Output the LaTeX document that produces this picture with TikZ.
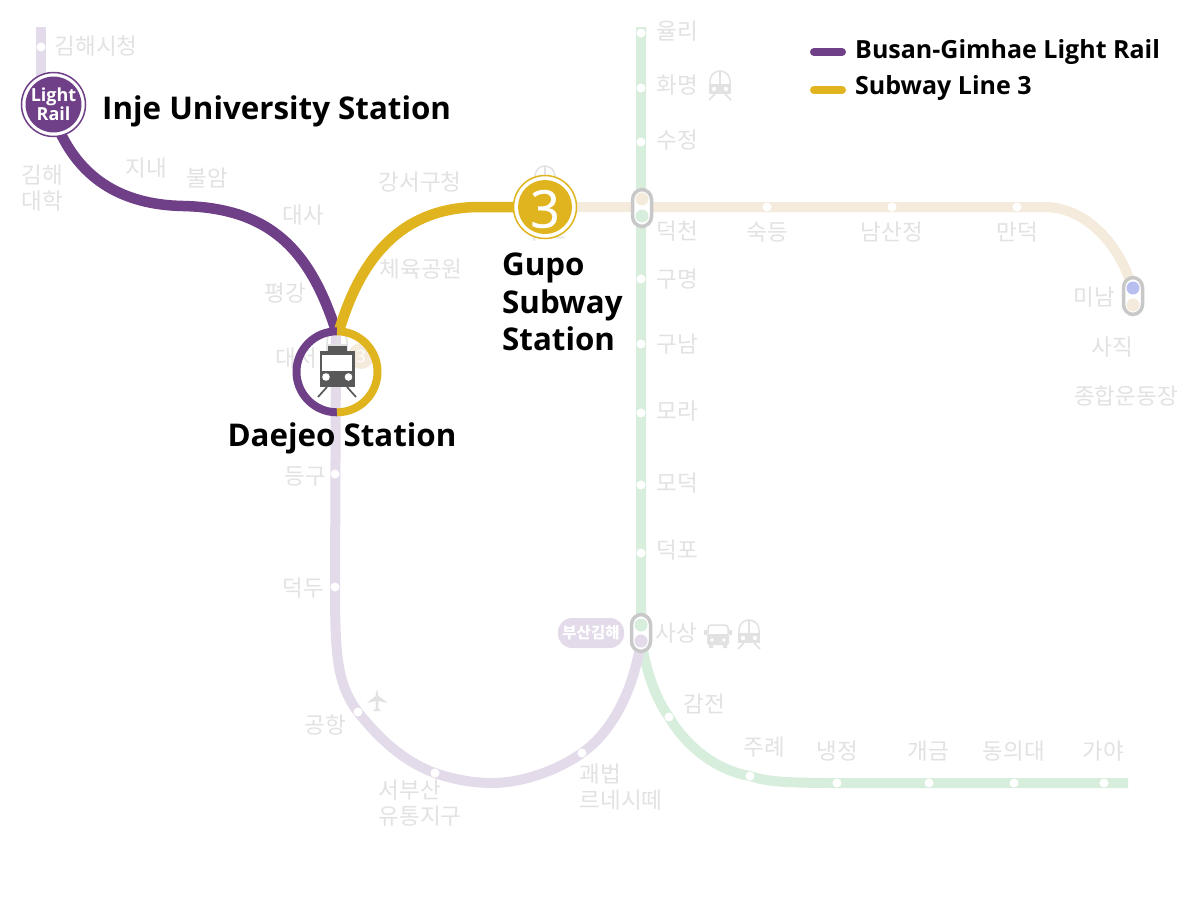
\documentclass[tikz,border=0pt]{standalone}
\usepackage{fontspec}
\setmainfont{Open Sans}
\newfontfamily\krfont{Noto Sans CJK KR}
\usetikzlibrary{positioning}
\definecolor{lrdark}{HTML}{6F3F87}
\definecolor{lrfaint}{HTML}{E3DBEA}
\definecolor{threedark}{HTML}{E0B41E}
\definecolor{threefaint}{HTML}{F5EBDC}
\definecolor{twofaint}{HTML}{D8EEDC}
\definecolor{onefaint}{HTML}{B9BEF0}
\definecolor{labelgrey}{HTML}{E2E2E2}
\definecolor{capsulegrey}{HTML}{C8C8C8}
\definecolor{icongrey}{HTML}{595959}
\tikzset{
  stn/.style={circle, inner sep=0pt, minimum size=9pt},
  stnlabel/.style={font=\krfont\fontsize{22.5}{26}\selectfont, text=labelgrey, align=left, inner sep=0pt, yshift=-0.5pt},
  bigname/.style={font=\bfseries\fontsize{31.3}{37.5}\selectfont, text=black, align=left, inner sep=0pt},
  legendname/.style={font=\bfseries\fontsize{25}{30}\selectfont, text=black, inner sep=0pt, anchor=west},
  faintline/.style={line width=10pt},
  darkline/.style={line width=10.5pt},
  capsule/.style={draw=capsulegrey, line width=3.5pt, fill=white, rounded corners=10pt, minimum width=19pt, minimum height=37pt, inner sep=0pt},
  capdot/.style={circle, inner sep=0pt, minimum size=13pt},
  trainicon/.pic={
    \draw[pic actions, line width=1.5pt, fill=none] (-10,0) -- (-10,-4) arc[start angle=180, end angle=360, radius=10] -- (10,0);
    \draw[pic actions, line width=1.5pt] (0,-14) -- (0,0);
    \fill[pic actions] (-11,-1) rectangle (11,9);
    \fill[white] (-6,4) circle (2.2) (6,4) circle (2.2);
    \draw[pic actions, line width=1.5pt] (-5,9) -- (-11,15) (5,9) -- (11,15);
  },
}
\begin{document}
\begin{tikzpicture}[x=1pt, y=-1pt]
  \useasboundingbox[fill=white] (0,0) rectangle (1200,900);

  % stations of the faded lines
  \node[stn] (sihall) at (41,47) {};
  \node[stn] (deunggu) at (335,474) {};
  \node[stn] (deokdu) at (335,587) {};
  \node[stn] (airport) at (358,712) {};
  \node[stn] (seobusan) at (435,773) {};
  \node[stn] (gwaebeop) at (582,753) {};
  \coordinate (lrtop) at (41,27);
  \coordinate (lrbadge) at (41,100);
  \coordinate (lrjoin) at (336,335);
  \coordinate (lrlow) at (492,783);
  \coordinate (sasang) at (641,640);
  \coordinate (greentop) at (641,27);
  \coordinate (greenend) at (1128,783);
  \coordinate (minam) at (1133,292);

  \node[stn] (yulli) at (641,33) {};
  \node[stn] (hwamyeong) at (641,88) {};
  \node[stn] (sujeong) at (641,142) {};
  \node[stn] (gumyeong) at (641,279) {};
  \node[stn] (gunam) at (641,344) {};
  \node[stn] (mora) at (641,413) {};
  \node[stn] (modeok) at (641,485) {};
  \node[stn] (deokpo) at (641,553) {};
  \node[stn] (gamjeon) at (669,717) {};
  \node[stn] (jurye) at (750,776) {};
  \node[stn] (naengjeong) at (837,783) {};
  \node[stn] (gaegeum) at (929,783) {};
  \node[stn] (dongeui) at (1014,783) {};
  \node[stn] (gaya) at (1104,783) {};
  \node[stn] (sukdeung) at (767,207) {};
  \node[stn] (namsan) at (892,207) {};
  \node[stn] (mandeok) at (1017,207) {};
  \coordinate (gupo) at (545,207);

  \draw[faintline, twofaint] (greentop) -- (sasang) .. controls (646,670) and (655,698) .. (gamjeon.center) .. controls (685,745) and (715,770) .. (jurye.center) .. controls (765,781) and (780,783) .. (naengjeong.center) -- (greenend);
  \draw[faintline, lrfaint] (lrtop) -- (lrbadge);
  \draw[faintline, lrfaint] (lrjoin) -- (deokdu.center) .. controls (335,660) and (338,685) .. (airport.center) .. controls (380,740) and (405,762) .. (seobusan.center) .. controls (455,780) and (475,783) .. (lrlow) .. controls (520,783) and (555,772) .. (gwaebeop.center) .. controls (612,732) and (634,690) .. (sasang);
  \draw[faintline, threefaint] (gupo) -- (1045,207) .. controls (1085,207) and (1122,245) .. (minam);
  % dots above the lines
  \foreach \stnname in {sihall,deunggu,deokdu,airport,seobusan,gwaebeop,yulli,hwamyeong,sujeong,gumyeong,gunam,mora,modeok,deokpo,gamjeon,jurye,naengjeong,gaegeum,dongeui,gaya,sukdeung,namsan,mandeok}
    \fill[white] (\stnname) circle (4.5);

  % labels
  \node[stnlabel] (lgimhaehall) at (96,46) {김해시청};
  \node[stnlabel] (ljinae) at (146,168) {지내};
  \node[stnlabel] (lbuream) at (207,177) {불암};
  \node[stnlabel] (lgimhaeuni) at (42,188) {김해\\대학};
  \node[stnlabel] (ldaesa) at (303,215) {대사};
  \node[stnlabel] (lpyeonggang) at (285,293) {평강};
  \node[stnlabel] (ldaejeo) at (296,358) {대저};
  \node[stnlabel] (ldeunggu) at (305,476) {등구};
  \node[stnlabel] (ldeokdu) at (303,588) {덕두};
  \node[stnlabel] (lairport) at (325,724) {공항};
  \node[stnlabel] (lseobusan) at (420,803) {서부산\\유통지구};
  \node[stnlabel] (lgwaebeop) at (621,787) {괘법\\르네시떼};
  \node[stnlabel] (lgangseo) at (420,182) {강서구청};
  \node[stnlabel] (lsports) at (421,269) {체육공원};
  \node[stnlabel] (lgupo) at (545,231) {구포};
  \node[stnlabel] (lyulli) at (677,31) {율리};
  \node[stnlabel] (lhwamyeong) at (677,85) {화명};
  \node[stnlabel] (lsujeong) at (677,140) {수정};
  \node[stnlabel] (ldeokcheon) at (677,231) {덕천};
  \node[stnlabel] (lgumyeong) at (677,279) {구명};
  \node[stnlabel] (lgunam) at (677,344) {구남};
  \node[stnlabel] (lmora) at (677,411) {모라};
  \node[stnlabel] (lmodeok) at (677,483) {모덕};
  \node[stnlabel] (ldeokpo) at (677,550) {덕포};
  \node[stnlabel] (lsasang) at (676,633) {사상};
  \node[stnlabel] (lgamjeon) at (704,703) {감전};
  \node[stnlabel] (ljurye) at (764,747) {주례};
  \node[stnlabel] (lnaengjeong) at (837,751) {냉정};
  \node[stnlabel] (lgaegeum) at (928,751) {개금};
  \node[stnlabel] (ldongeui) at (1014,751) {동의대};
  \node[stnlabel] (lgaya) at (1103,751) {가야};
  \node[stnlabel] (lsukdeung) at (767,232) {숙등};
  \node[stnlabel] (lnamsan) at (892,232) {남산정};
  \node[stnlabel] (lmandeok) at (1017,232) {만덕};
  \node[stnlabel] (lminam) at (1094,297) {미남};
  \node[stnlabel] (lsajik) at (1112,347) {사직};
  \node[stnlabel] (lstadium) at (1126,395) {종합운동장};

  \node[fill=lrfaint, rounded corners=14pt, minimum width=66pt, minimum height=30pt, inner sep=0pt, text=white, font=\krfont\bfseries\fontsize{15.5}{16}\selectfont] (gimhaepill) at (591,633) {부산김해};

  % transfer capsules
  \node[capsule] (capdeokcheon) at (642,208) {};
  \node[capdot, fill=threefaint] (capda) at (642,199) {};
  \node[capdot, fill=twofaint] (capdb) at (642,216) {};
  \node[capsule] (capsasang) at (641,633) {};
  \node[capdot, fill=twofaint] (capsa) at (641,625) {};
  \node[capdot, fill=lrfaint] (capsb) at (641,641) {};
  \node[capsule] (capminam) at (1133,296) {};
  \node[capdot, fill=onefaint] (capma) at (1133,288) {};
  \node[capdot, fill=threefaint] (capmb) at (1133,305) {};

  % faint icons
  \pic[labelgrey] at (720,85) {trainicon};
  \pic[labelgrey] at (749,634) {trainicon};
  \pic[labelgrey] at (545,180) {trainicon};
  \pic[labelgrey] at (337,345) {trainicon};
  \draw[labelgrey, line width=1.5pt, rounded corners=3pt] (708,634) -- (708,625) -- (728,625) -- (728,634);
  \fill[labelgrey, rounded corners=2pt] (707,634) rectangle (729,645);
  \fill[labelgrey] (709,645) rectangle (713,648) (723,645) rectangle (727,648) (704,630) rectangle (707,635) (729,630) rectangle (732,635);
  \fill[white] (712,640) circle (1.8) (724,640) circle (1.8);
  \fill[labelgrey] (377,689) -- (378.5,696) -- (388,703) -- (378.5,701) -- (378,708) -- (381,711) -- (373,711) -- (376,708) -- (375.5,701) -- (367,703) -- (375.5,696) -- cycle;
  \node[circle, fill=threefaint, minimum size=26pt, inner sep=0pt, text=white, font=\fontsize{17}{17}\selectfont] (faintthree) at (361,356) {3};

  % highlighted route
  \coordinate (injeout) at (60,132);
  \coordinate (lrmid) at (183,206);
  \coordinate (daejeotop) at (336,331);
  \draw[darkline, lrdark] (injeout) .. controls (85,185) and (130,205) .. (lrmid) .. controls (270,208) and (310,250) .. (daejeotop);
  \draw[darkline, threedark] (339,331) .. controls (360,260) and (400,207) .. (480,207) -- (gupo);

  % Daejeo ring and train
  \node[circle, minimum size=81pt, inner sep=0pt] (daejeo) at (337,372) {};
  \draw[lrdark, line width=8pt] (daejeo.north) arc[start angle=-90, end angle=-270, radius=40.5];
  \draw[threedark, line width=8pt] (daejeo.north) arc[start angle=-90, end angle=90, radius=40.5];
  \fill[icongrey] (328,346) rectangle (347,352);
  \fill[icongrey] (319.5,351) rectangle (355,387);
  \fill[white] (322,355) rectangle (352,371);
  \fill[white] (326,377) circle (3.8) (348.5,377) circle (3.8);
  \draw[icongrey, line width=1.7pt] (327,387) -- (318,397) (347,387) -- (356,397);

  % badges
  \node[circle, draw=lrdark, line width=1.5pt, fill=white, minimum size=64pt, inner sep=0pt] (injering) at (53.5,104.5) {};
  \node[circle, fill=lrdark, minimum size=52pt, inner sep=0pt, text=white, align=center, font=\bfseries\fontsize{18}{17.5}\selectfont] (inje) at (53.5,104.5) {Light\\Rail};
  \node[circle, draw=threedark, line width=1.5pt, fill=white, minimum size=63pt, inner sep=0pt] (gupoing) at (545,207) {};
  \node[circle, fill=threedark, minimum size=54pt, inner sep=0pt] (gupobadge) at (545,207) {};
  \node[text=white, inner sep=0pt, font=\fontsize{52}{52}\selectfont\addfontfeature{FakeBold=0.6}] (gupothree) at (545,209) {3};

  % big names
  \node[bigname, anchor=west] (injename) at (102,111) {Inje University Station};
  \node[bigname, anchor=north west] (gupoame) at (502,253) {Gupo\\Subway\\Station};
  \node[bigname] (daejeoname) at (342,438) {Daejeo Station};

  % legend
  \coordinate (lega) at (814,52);
  \coordinate (legb) at (842,52);
  \coordinate (legc) at (814,90);
  \coordinate (legd) at (842,90);
  \draw[lrdark, line width=8pt, line cap=round] (lega) -- (legb);
  \draw[threedark, line width=8pt, line cap=round] (legc) -- (legd);
  \node[legendname] (legendlr) at (855,52) {Busan-Gimhae Light Rail};
  \node[legendname] (legendthree) at (855,88) {Subway Line 3};
\end{tikzpicture}
\end{document}
